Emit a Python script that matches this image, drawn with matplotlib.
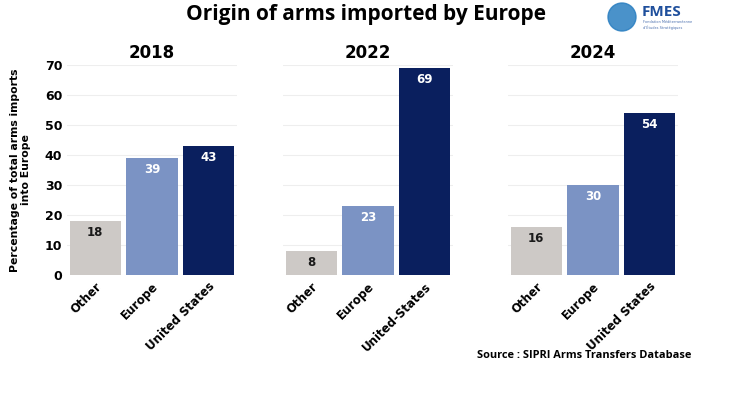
import matplotlib.pyplot as plt
from matplotlib.patches import Ellipse

plt.rcParams['font.family'] = ['DejaVu Sans']
OPEN = ['Open Sans', 'DejaVu Sans']

# Data
years = ['2018', '2022', '2024']
categories = [['Other', 'Europe', 'United States'],
              ['Other', 'Europe', 'United-States'],
              ['Other', 'Europe', 'United States']]
values = [[18, 39, 43],
          [8, 23, 69],
          [16, 30, 54]]
colors = ['#cdc9c6', '#7b93c4', '#0a1f5e']
label_colors = ['#1a1a1a', 'white', 'white']

fig = plt.figure(figsize=(7.33, 3.94), dpi=100)

lefts = [67, 283, 508]
for i, year in enumerate(years):
    ax = fig.add_axes([lefts[i] / 733, 0.302, 170 / 733, 0.533])
    x = range(len(values[i]))
    bars = ax.bar(x, values[i], width=0.91, color=colors, zorder=3)
    for b, v, c in zip(bars, values[i], label_colors):
        ax.text(b.get_x() + b.get_width() / 2, v - 1.5, str(v), ha='center', va='top',
                color=c, fontsize=8.5, fontweight='bold', zorder=4)
    ax.set_xlim(-0.5, 2.5)
    ax.set_ylim(0, 70)
    ax.set_yticks(range(0, 71, 10))
    ax.grid(axis='y', color='#eeeeee', linewidth=0.8, zorder=0)
    for s in ax.spines.values():
        s.set_visible(False)
    ax.tick_params(length=0)
    ax.set_xticks(list(x))
    ax.set_xticklabels(categories[i], rotation=45, ha='right', rotation_mode='anchor',
                       fontsize=8.5, fontweight='bold')
    if i == 0:
        for t in ax.get_yticklabels():
            t.set_fontweight('bold')
            t.set_fontsize(9)
        ax.set_ylabel('Percentage of total arms imports\ninto Europe', fontsize=7.8,
                      fontweight='bold', labelpad=10, linespacing=1.05)
    else:
        ax.set_yticklabels([])
    ax.set_title(year, fontsize=12, fontweight='bold', pad=5)

fig.text(0.5, 0.962, 'Origin of arms imported by Europe', ha='center', va='center',
         fontsize=15, fontweight='bold', family=OPEN)
fig.text(0.943, 0.098, 'Source : SIPRI Arms Transfers Database', ha='right', va='center',
         fontsize=7.9, fontweight='bold', family=OPEN)

# logo
fig.patches.append(Ellipse((622 / 733, 1 - 17 / 394), 28 / 733, 28 / 394,
                           transform=fig.transFigure, color='#2a7fc1', alpha=0.85))
fig.text(642 / 733, 1 - 12 / 394, 'FMES', fontsize=11, fontweight='bold', color='#1f4f9c',
         va='center', ha='left', family=OPEN)
fig.text(643 / 733, 1 - 25 / 394, 'Fondation Méditerranéenne\nd\'Études Stratégiques',
         fontsize=2.5, color='#4a6fae', va='center', ha='left', linespacing=1.1)

fig.savefig('out.png', dpi=100)
